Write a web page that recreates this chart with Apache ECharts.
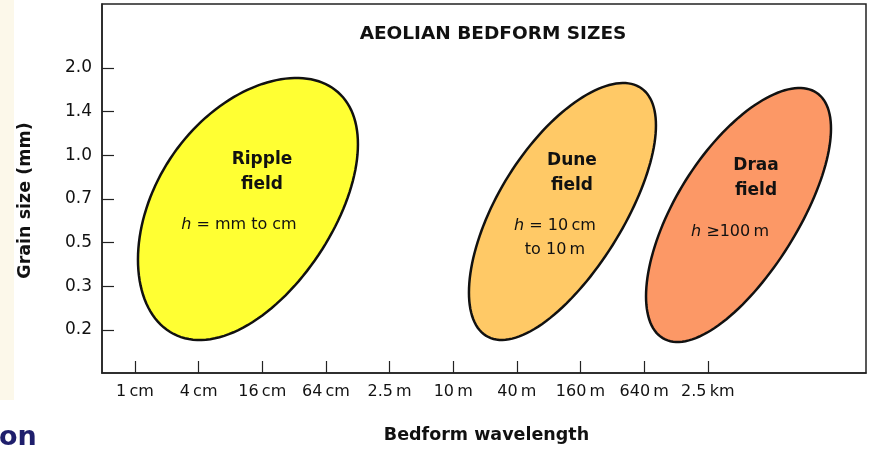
<!DOCTYPE html>
<html>
<head>
<meta charset="utf-8">
<script src="https://cdn.jsdelivr.net/npm/echarts@6/dist/echarts.min.js"></script>
<style>
html,body{margin:0;padding:0;background:#fff;}
#chart{width:871px;height:450px;}
</style>
</head>
<body>
<div id="chart"></div>
<script>
// Tick labels (x: bedform wavelength, factor 4 per tick; y: grain size in mm)
const xTickLabels = ['1\u2009cm', '4\u2009cm', '16\u2009cm', '64\u2009cm', '2.5\u2009m', '10\u2009m', '40\u2009m', '160\u2009m', '640\u2009m', '2.5\u2009km'];
const yTickLabels = ['0.2', '0.3', '0.5', '0.7', '1.0', '1.4', '2.0'];

// Bedform fields (values in tick-index units of each axis)
const fieldNames = ['Ripple\nfield', 'Dune\nfield', 'Draa\nfield'];
const fieldHeights = ['{i|h} = mm to cm', '{i|h} = 10\u2009cm\nto 10\u2009m', '{i|h} \u2265100\u2009m'];
const centerWavelength = [1.775, 6.716, 9.482];
const centerGrain = [2.769, 2.712, 2.632];
const spreadWavelength = [1.728, 1.469, 1.453];
const spreadGrain = [2.998, 2.94, 2.906];
const correlation = [0.44, 0.65, 0.66];
const bulge = [0.2, 0.1, 0.1];

const fieldColors = ['#FFFF33', '#FFC966', '#FC9866'];
const nameOffsets = [[14, -36.5], [9.5, -38.5], [17.5, -36.5]];
const heightOffsets = [[-9, 16], [-7.5, 26.5], [-8.5, 17]];

const data = fieldNames.map((n, i) => [centerWavelength[i], centerGrain[i], spreadWavelength[i], spreadGrain[i], correlation[i], bulge[i]]);

const FONT = '"DejaVu Sans", "Liberation Sans", Arial, sans-serif';

function renderItem(params, api) {
  const i = params.dataIndex;
  const cx = api.value(0), cy = api.value(1), rx = api.value(2), ry = api.value(3), k = api.value(4), e = api.value(5);
  const phi = Math.acos(k);
  const pts = [];
  const N = 144;
  for (let s = 0; s < N; s++) {
    const t = s / N * 2 * Math.PI;
    const dy = ry * Math.cos(t - phi);
    const u = dy / ry;
    pts.push(api.coord([cx + rx * Math.cos(t), cy + dy + e * (1 - u * u)]));
  }
  const c = api.coord([cx, cy]);
  return {
    type: 'group',
    children: [
      { type: 'polygon', shape: { points: pts }, style: { fill: fieldColors[i], stroke: '#111', lineWidth: 2.5 } },
      { type: 'text', x: c[0] + nameOffsets[i][0], y: c[1] + nameOffsets[i][1],
        style: { text: fieldNames[i], fill: '#111', fontFamily: FONT, fontWeight: 'bold', fontSize: 17,
                 align: 'center', verticalAlign: 'middle', lineHeight: 25 } },
      { type: 'text', x: c[0] + heightOffsets[i][0], y: c[1] + heightOffsets[i][1],
        style: { text: fieldHeights[i], fill: '#111', fontFamily: FONT, fontSize: 16,
                 align: 'center', verticalAlign: 'middle', lineHeight: 24,
                 rich: { i: { fontStyle: 'italic', fontFamily: FONT, fontSize: 16, fill: '#111' } } } }
    ]
  };
}

const chart = echarts.init(document.getElementById('chart'), null, { renderer: 'canvas' });
chart.setOption({
  backgroundColor: '#fff',
  animation: false,
  title: {
    text: 'AEOLIAN BEDFORM SIZES', left: 488, top: 20, textAlign: 'center',
    textStyle: { fontFamily: FONT, fontWeight: 'bold', fontSize: 18.5, color: '#111' }
  },
  grid: { left: 102, right: 5, top: 4, bottom: 77, show: true, borderColor: '#222', borderWidth: 1.5, backgroundColor: 'transparent' },
  xAxis: {
    type: 'value', min: -0.518, max: 11.485,
    name: 'Bedform wavelength', nameLocation: 'middle', nameGap: 53,
    nameTextStyle: { fontFamily: FONT, fontWeight: 'bold', fontSize: 17.5, color: '#111', padding: [0, 0, 0, 5] },
    axisLine: { show: true, onZero: false, lineStyle: { color: '#222', width: 1.5 } },
    axisTick: { show: true, inside: true, length: 12, customValues: xTickLabels.map((_, i) => i), lineStyle: { color: '#222', width: 1.2 } },
    axisLabel: { customValues: xTickLabels.map((_, i) => i), margin: 11, fontFamily: FONT, fontSize: 16, color: '#111',
                 formatter: v => xTickLabels[Math.round(v)] },
    splitLine: { show: false }
  },
  yAxis: {
    type: 'value', min: -0.984, max: 7.46,
    name: 'Grain size (mm)', nameLocation: 'middle', nameGap: 68, nameRotate: 90,
    nameTextStyle: { fontFamily: FONT, fontWeight: 'bold', fontSize: 17.5, color: '#111', padding: [0, 24, 0, 0] },
    axisLine: { show: true, onZero: false, lineStyle: { color: '#222', width: 1.5 } },
    axisTick: { show: true, inside: true, length: 12, customValues: yTickLabels.map((_, i) => i), lineStyle: { color: '#222', width: 1.2 } },
    axisLabel: { customValues: yTickLabels.map((_, i) => i), margin: 10, fontFamily: FONT, fontSize: 17, color: '#111',
                 formatter: v => yTickLabels[Math.round(v)] },
    splitLine: { show: false }
  },
  graphic: [
    { type: 'rect', z: -10, shape: { x: 0, y: 0, width: 14, height: 400 }, style: { fill: '#FCF8EA' } },
    { type: 'text', left: -1, top: 424, style: { text: 'on', fill: '#1E1E6C', font: 'bold 27px ' + FONT } }
  ],
  series: [{
    type: 'custom',
    coordinateSystem: 'cartesian2d',
    renderItem: renderItem,
    encode: { x: 0, y: 1 },
    data: data,
    clip: false
  }]
});
</script>
</body>
</html>
